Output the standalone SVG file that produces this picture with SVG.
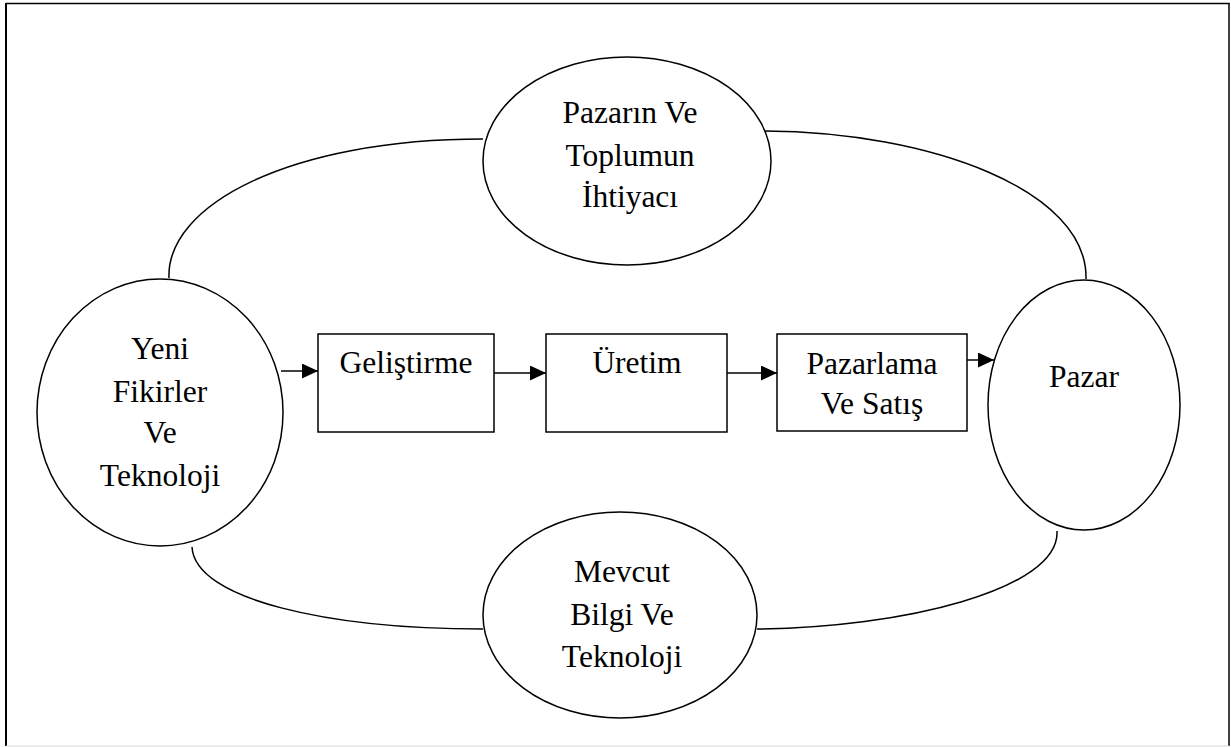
<svg xmlns="http://www.w3.org/2000/svg" width="1231" height="747" viewBox="0 0 1231 747">
  <style>
    .shape { fill: #ffffff; stroke: #000000; stroke-width: 1.5; }
    .link { fill: none; stroke: #000000; stroke-width: 1.5; }
    .label { font-size: 31.5px; fill: #000000; text-anchor: middle; }
  </style>
  <defs>
    <marker id="arrow" viewBox="0 0 16 15" refX="16" refY="7.5" markerWidth="16" markerHeight="15" markerUnits="userSpaceOnUse" orient="auto">
      <path d="M0,0 L16,7.5 L0,15 Z" fill="#000000"/>
    </marker>
  </defs>

  <rect x="0" y="0" width="1231" height="747" fill="#ffffff"/>
  <!-- outer frame -->
  <g id="frame">
    <line x1="6" y1="3.5" x2="1229.5" y2="3.5" stroke="#000000" stroke-width="1.5"/>
    <line x1="6" y1="3" x2="6" y2="746" stroke="#000000" stroke-width="2"/>
    <line x1="1229" y1="3" x2="1229" y2="746" stroke="#000000" stroke-width="1.5"/>
    <line x1="6" y1="746" x2="1229" y2="746" stroke="#d8d8d8" stroke-width="1"/>
  </g>

  <!-- curved links and arrows -->
  <g id="connectors">
    <path class="link" d="M169,278 C166,205 290,139 483,139"/>
    <path class="link" d="M765,131 C930,132 1088,190 1086,279"/>
    <path class="link" d="M192,547 C195,600 330,629 483,629"/>
    <path class="link" d="M757,629 C900,628 1060,590 1057,531"/>
    <line class="link" x1="281" y1="371" x2="318" y2="371" marker-end="url(#arrow)"/>
    <line class="link" x1="494" y1="373" x2="546" y2="373" marker-end="url(#arrow)"/>
    <line class="link" x1="727" y1="373" x2="777" y2="373" marker-end="url(#arrow)"/>
    <line class="link" x1="967" y1="360" x2="994" y2="360" marker-end="url(#arrow)"/>
  </g>

  <g font-family="'Liberation Serif', 'DejaVu Serif', serif">
    <g id="node-yeni-fikirler">
      <ellipse class="shape" cx="160" cy="412.5" rx="123" ry="133.5"/>
      <text class="label" x="160" y="359">Yeni</text>
      <text class="label" x="160" y="402">Fikirler</text>
      <text class="label" x="160" y="443">Ve</text>
      <text class="label" x="160" y="486">Teknoloji</text>
    </g>

    <g id="node-pazarin-ihtiyaci">
      <ellipse class="shape" cx="627" cy="161" rx="144" ry="104"/>
      <text class="label" x="630" y="123">Pazarın Ve</text>
      <text class="label" x="630" y="166">Toplumun</text>
      <text class="label" x="630" y="207">İhtiyacı</text>
    </g>

    <g id="node-mevcut-bilgi">
      <ellipse class="shape" cx="620" cy="615" rx="137" ry="103"/>
      <text class="label" x="622" y="582">Mevcut</text>
      <text class="label" x="622" y="625">Bilgi Ve</text>
      <text class="label" x="622" y="667">Teknoloji</text>
    </g>

    <g id="node-pazar">
      <ellipse class="shape" cx="1084" cy="405" rx="96" ry="125"/>
      <text class="label" x="1084" y="387">Pazar</text>
    </g>

    <g id="node-gelistirme">
      <rect class="shape" x="318" y="334" width="176" height="98"/>
      <text class="label" x="406" y="373">Geliştirme</text>
    </g>

    <g id="node-uretim">
      <rect class="shape" x="546" y="334" width="181" height="98"/>
      <text class="label" x="637" y="373">Üretim</text>
    </g>

    <g id="node-pazarlama">
      <rect class="shape" x="777" y="334" width="190" height="97"/>
      <text class="label" x="872" y="374">Pazarlama</text>
      <text class="label" x="872" y="414">Ve Satış</text>
    </g>
  </g>
</svg>
